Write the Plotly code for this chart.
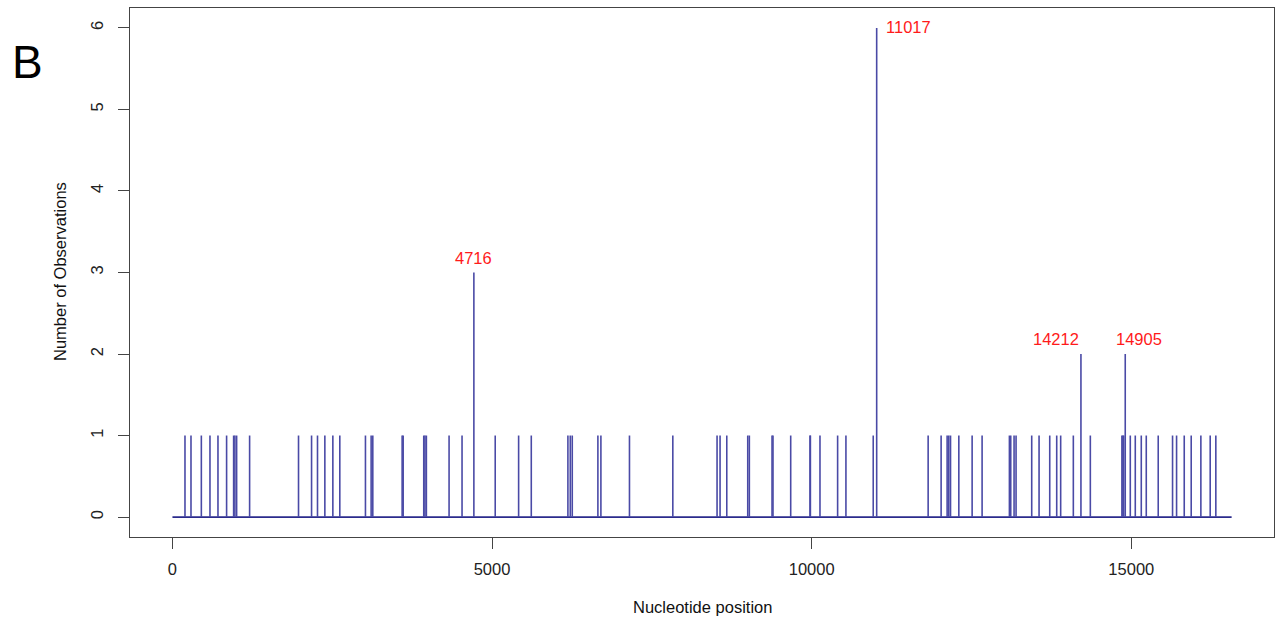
import plotly.graph_objects as go

# ---- data ----
positions = [
    197, 291, 453, 588, 713, 848, 958, 978, 1005, 1208,
    1973, 2177, 2270, 2385, 2510, 2619, 3020, 3109, 3135, 3594,
    3610, 3932, 3951, 3973, 4328, 4531, 4716, 5050, 5416, 5614,
    6187, 6224, 6255, 6656, 6703, 7150, 7828, 8520, 8567, 8672,
    9000, 9025, 9380, 9395, 9672, 9974, 9980, 10130, 10406, 10536,
    10963, 11017, 11822, 12025, 12119, 12145, 12172, 12302, 12510, 12666,
    13093, 13114, 13166, 13197, 13442, 13557, 13724, 13833, 13895, 14093,
    14212, 14359, 14853, 14869, 14880, 14905, 14984, 15062, 15156, 15234,
    15421, 15645, 15708, 15828, 15937, 16088, 16234, 16322,
]
counts = [
    1, 1, 1, 1, 1, 1, 1, 1, 1, 1,
    1, 1, 1, 1, 1, 1, 1, 1, 1, 1,
    1, 1, 1, 1, 1, 1, 3, 1, 1, 1,
    1, 1, 1, 1, 1, 1, 1, 1, 1, 1,
    1, 1, 1, 1, 1, 1, 1, 1, 1, 1,
    1, 6, 1, 1, 1, 1, 1, 1, 1, 1,
    1, 1, 1, 1, 1, 1, 1, 1, 1, 1,
    2, 1, 1, 1, 1, 2, 1, 1, 1, 1,
    1, 1, 1, 1, 1, 1, 1, 1,
]
genome_start = 1
genome_end = 16569
labelled_positions = [4716, 11017, 14212, 14905]

x_ticks = [0, 5000, 10000, 15000]
y_ticks = [0, 1, 2, 3, 4, 5, 6]

# ---- styling ----
FONT = "Liberation Sans, Arial, Helvetica, sans-serif"
LINE_COLOR = "#4a4aa6"
AXIS_COLOR = "#444444"
label_style = {
    4716: dict(xanchor="center", yanchor="middle", xshift=0, yshift=15),
    11017: dict(xanchor="left", yanchor="middle", xshift=7, yshift=1),
    14212: dict(xanchor="center", yanchor="middle", xshift=-25, yshift=15),
    14905: dict(xanchor="center", yanchor="middle", xshift=14, yshift=15),
}

xs, ys = [], []
for p, c in zip(positions, counts):
    xs += [p, p, None]
    ys += [0, c, None]

fig = go.Figure()
fig.add_trace(go.Scatter(x=[genome_start, genome_end], y=[0, 0], mode="lines",
                         line=dict(color="#2b2b8c", width=1.8), hoverinfo="skip",
                         showlegend=False))
fig.add_trace(go.Scatter(x=xs, y=ys, mode="lines",
                         line=dict(color=LINE_COLOR, width=1.6),
                         showlegend=False))

count_at = dict(zip(positions, counts))
for p in labelled_positions:
    st = label_style[p]
    fig.add_annotation(x=p, y=count_at[p], text=str(p), showarrow=False,
                       font=dict(family=FONT, size=16.5, color="#ff1a1a"), **st)

# axis titles and panel letter
fig.add_annotation(xref="paper", yref="paper", x=(702 - 130) / 1144, y=-(607 - 537) / 529,
                   text="Nucleotide position", showarrow=False,
                   font=dict(family=FONT, size=16.5, color="#111"),
                   xanchor="center", yanchor="middle")
fig.add_annotation(xref="paper", yref="paper", x=-(130 - 60) / 1144, y=(537 - 272) / 529,
                   text="Number of Observations", showarrow=False, textangle=-90,
                   font=dict(family=FONT, size=16.5, color="#111"),
                   xanchor="center", yanchor="middle")
fig.add_annotation(xref="paper", yref="paper", x=-(130 - 27) / 1144, y=(537 - 62) / 529,
                   text="B", showarrow=False,
                   font=dict(family=FONT, size=46, color="#000"),
                   xanchor="center", yanchor="middle")

fig.update_layout(
    width=1275, height=619,
    margin=dict(l=130, r=1, t=8, b=82),
    paper_bgcolor="white", plot_bgcolor="white",
    font=dict(family=FONT, size=16.5, color="#222"),
    showlegend=False,
)
fig.update_xaxes(range=[-663, 17232], tickvals=x_ticks, ticktext=[str(v) for v in x_ticks],
                 ticks="outside", ticklen=11, tickwidth=1, tickcolor=AXIS_COLOR,
                 showline=True, mirror=True, linecolor=AXIS_COLOR, linewidth=1.2,
                 showgrid=False, zeroline=False, ticklabelstandoff=6)
fig.update_yaxes(range=[-0.245, 6.245], tickvals=y_ticks, ticktext=[str(v) for v in y_ticks],
                 ticks="outside", ticklen=11, tickwidth=1, tickcolor=AXIS_COLOR,
                 tickangle=-90,
                 showline=True, mirror=True, linecolor=AXIS_COLOR, linewidth=1.2,
                 showgrid=False, zeroline=False, ticklabelstandoff=8)

fig.write_html("out.html")
